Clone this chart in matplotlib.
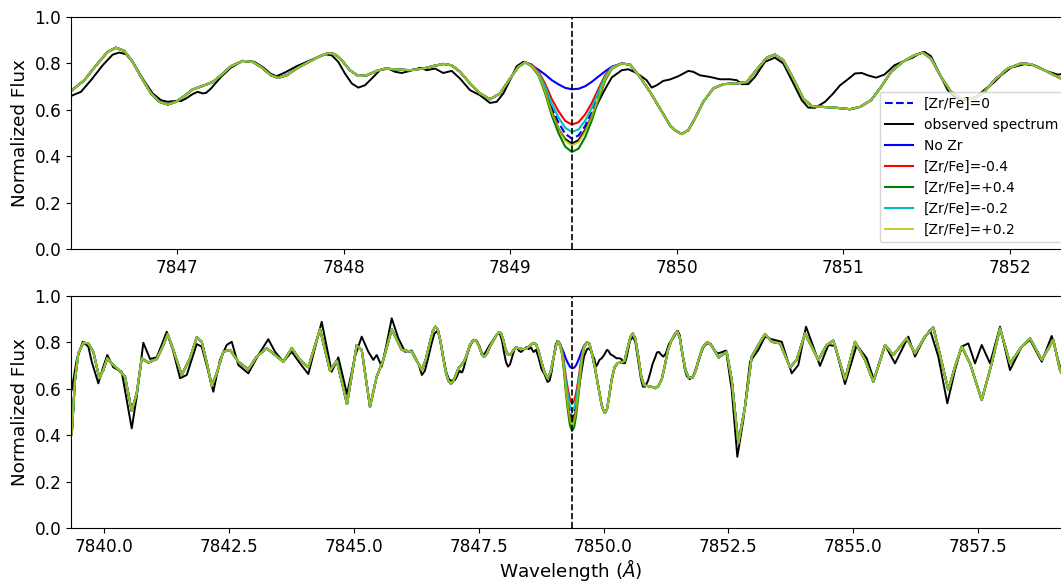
import numpy as np
import matplotlib
matplotlib.use("Agg")
import matplotlib.pyplot as plt

# ---------------------------------------------------------------
# Observed spectrum (wavelength in Angstrom, normalized flux)
# ---------------------------------------------------------------
obs_wave = [
    7839.353, 7839.453, 7839.574, 7839.686, 7839.754, 7839.886, 7839.986, 7840.066,
    7840.186, 7840.354, 7840.454, 7840.555, 7840.655, 7840.787, 7840.921, 7841.055,
    7841.155, 7841.255, 7841.387, 7841.522, 7841.656, 7841.856, 7841.956, 7842.088,
    7842.188, 7842.322, 7842.456, 7842.557, 7842.689, 7842.889, 7843.089, 7843.289,
    7843.423, 7843.590, 7843.758, 7843.924, 7844.090, 7844.358, 7844.558, 7844.691,
    7844.865, 7845.025, 7845.159, 7845.291, 7845.391, 7845.459, 7845.560, 7845.660,
    7845.760, 7845.892, 7846.026, 7846.160, 7846.292,
    7846.364, 7846.424, 7846.484, 7846.554, 7846.614, 7846.654, 7846.694, 7846.734,
    7846.794, 7846.854, 7846.904, 7846.944, 7846.994, 7847.024, 7847.054, 7847.094,
    7847.124, 7847.154, 7847.174, 7847.204, 7847.264, 7847.324, 7847.394, 7847.464,
    7847.514, 7847.564, 7847.598, 7847.648, 7847.718, 7847.779, 7847.839, 7847.888,
    7847.929, 7847.968, 7848.008, 7848.049, 7848.088, 7848.128, 7848.169, 7848.218,
    7848.268, 7848.309, 7848.349, 7848.399, 7848.459, 7848.499, 7848.549, 7848.598,
    7848.649, 7848.699, 7848.759, 7848.819, 7848.879, 7848.919, 7848.959, 7848.999,
    7849.039, 7849.079,
    7849.130, 7849.170, 7849.210, 7849.250, 7849.290, 7849.330, 7849.370, 7849.410,
    7849.450, 7849.490, 7849.530, 7849.570, 7849.610, 7849.670,
    7849.709, 7849.759, 7849.819, 7849.849, 7849.879, 7849.919, 7849.959, 7850.009,
    7850.069, 7850.099, 7850.139, 7850.199, 7850.259, 7850.319, 7850.360, 7850.390,
    7850.429, 7850.469, 7850.529, 7850.589, 7850.639, 7850.690, 7850.750, 7850.789,
    7850.830, 7850.890, 7850.939, 7850.980, 7851.020, 7851.070, 7851.110, 7851.146,
    7851.196, 7851.246, 7851.306, 7851.366, 7851.416, 7851.456, 7851.486, 7851.526,
    7851.576, 7851.626, 7851.666, 7851.726, 7851.796, 7851.856, 7851.906, 7851.946,
    7852.006, 7852.086, 7852.146, 7852.216, 7852.286,
    7852.453, 7852.567, 7852.679, 7852.799, 7852.933, 7853.099, 7853.233, 7853.367,
    7853.568, 7853.768, 7853.900, 7854.054, 7854.200, 7854.334, 7854.501, 7854.635,
    7854.835, 7855.069, 7855.269, 7855.415, 7855.636, 7855.836, 7856.102, 7856.236,
    7856.402, 7856.537, 7856.703, 7856.883, 7857.037, 7857.171, 7857.303, 7857.437,
    7857.572, 7857.738, 7857.938, 7858.138, 7858.372, 7858.539, 7858.773, 7858.973,
    7859.139, 7859.300,
]
obs_flux = [
    0.595, 0.725, 0.803, 0.782, 0.717, 0.624, 0.696, 0.746,
    0.693, 0.674, 0.552, 0.430, 0.567, 0.799, 0.729, 0.736,
    0.790, 0.846, 0.761, 0.646, 0.660, 0.793, 0.782, 0.674,
    0.588, 0.725, 0.789, 0.803, 0.703, 0.667, 0.746, 0.814,
    0.760, 0.717, 0.760, 0.710, 0.664, 0.889, 0.674, 0.736,
    0.578, 0.740, 0.825, 0.760, 0.725, 0.746, 0.696, 0.796,
    0.904, 0.818, 0.760, 0.765, 0.710,
    0.660, 0.678, 0.728, 0.792, 0.838, 0.847, 0.840, 0.807,
    0.735, 0.671, 0.642, 0.635, 0.639, 0.638, 0.649, 0.668,
    0.678, 0.671, 0.673, 0.692, 0.742, 0.782, 0.811, 0.807,
    0.785, 0.755, 0.745, 0.761, 0.788, 0.807, 0.825, 0.840,
    0.835, 0.807, 0.757, 0.714, 0.696, 0.706, 0.735, 0.771,
    0.778, 0.764, 0.759, 0.768, 0.781, 0.771, 0.778, 0.759,
    0.768, 0.735, 0.685, 0.663, 0.630, 0.635, 0.671, 0.728,
    0.788, 0.807,
    0.795, 0.760, 0.690, 0.595, 0.520, 0.475, 0.455, 0.470,
    0.515, 0.575, 0.635, 0.690, 0.740, 0.771,
    0.775, 0.759, 0.728, 0.696, 0.706, 0.725, 0.731, 0.745,
    0.768, 0.764, 0.749, 0.742, 0.732, 0.732, 0.728, 0.711,
    0.711, 0.742, 0.807, 0.825, 0.800, 0.728, 0.642, 0.610,
    0.609, 0.635, 0.671, 0.706, 0.728, 0.757, 0.759, 0.749,
    0.739, 0.752, 0.792, 0.811, 0.825, 0.843, 0.850, 0.831,
    0.757, 0.685, 0.656, 0.642, 0.656, 0.692, 0.720, 0.749,
    0.782, 0.797, 0.792, 0.768, 0.752,
    0.765, 0.595, 0.308, 0.466, 0.717, 0.768, 0.825, 0.814,
    0.803, 0.667, 0.703, 0.868, 0.782, 0.699, 0.789, 0.785,
    0.621, 0.789, 0.732, 0.638, 0.789, 0.710, 0.825, 0.739,
    0.811, 0.854, 0.739, 0.538, 0.681, 0.782, 0.796, 0.710,
    0.789, 0.710, 0.868, 0.681, 0.782, 0.811, 0.717, 0.828,
    0.696, 0.640,
]

# ---------------------------------------------------------------
# Synthetic spectrum, common to every model away from the Zr line
# ---------------------------------------------------------------
syn_wave = [
    7839.353, 7839.419, 7839.485, 7839.586, 7839.686, 7839.786, 7839.906, 7839.986,
    7840.066, 7840.154, 7840.286, 7840.420, 7840.555, 7840.655, 7840.755, 7840.887,
    7841.055, 7841.175, 7841.275, 7841.387, 7841.556, 7841.722, 7841.856, 7841.956,
    7842.068, 7842.156, 7842.256, 7842.388, 7842.523, 7842.689, 7842.889, 7843.057,
    7843.257, 7843.423, 7843.590, 7843.758, 7843.924, 7844.090, 7844.324, 7844.525,
    7844.659, 7844.865, 7845.059, 7845.159, 7845.325, 7845.459, 7845.592, 7845.760,
    7845.960, 7846.160,
    7846.364, 7846.444, 7846.524, 7846.584, 7846.634, 7846.684, 7846.734, 7846.784,
    7846.844, 7846.894, 7846.944, 7846.994, 7847.044, 7847.094, 7847.164, 7847.214,
    7847.264, 7847.324, 7847.394, 7847.454, 7847.504, 7847.564, 7847.608, 7847.658,
    7847.718, 7847.779, 7847.848, 7847.908, 7847.948, 7847.989, 7848.038, 7848.088,
    7848.139, 7848.199, 7848.249, 7848.319, 7848.399, 7848.478, 7848.538, 7848.598,
    7848.649, 7848.699, 7848.759, 7848.819, 7848.879, 7848.939, 7848.999, 7849.049,
]
syn_flux = [
    0.402, 0.638, 0.753, 0.799, 0.796, 0.760, 0.646, 0.681,
    0.732, 0.710, 0.684, 0.653, 0.505, 0.581, 0.732, 0.713,
    0.729, 0.782, 0.836, 0.768, 0.660, 0.732, 0.822, 0.803,
    0.703, 0.613, 0.667, 0.760, 0.768, 0.717, 0.684, 0.739,
    0.775, 0.746, 0.717, 0.775, 0.725, 0.693, 0.857, 0.678,
    0.722, 0.535, 0.789, 0.768, 0.523, 0.653, 0.725, 0.857,
    0.768, 0.760,
    0.681, 0.728, 0.800, 0.850, 0.868, 0.854, 0.807, 0.742,
    0.671, 0.635, 0.623, 0.635, 0.660, 0.688, 0.706, 0.720,
    0.749, 0.788, 0.811, 0.807, 0.785, 0.749, 0.738, 0.749,
    0.778, 0.802, 0.828, 0.845, 0.840, 0.814, 0.771, 0.746,
    0.749, 0.768, 0.778, 0.774, 0.771, 0.778, 0.789, 0.798,
    0.792, 0.764, 0.714, 0.671, 0.646, 0.671, 0.735, 0.785,
]
syn_wave_red = [
    7849.719, 7849.779, 7849.839, 7849.899, 7849.959, 7849.989, 7850.029, 7850.069,
    7850.109, 7850.159, 7850.219, 7850.279, 7850.360, 7850.420, 7850.469, 7850.540,
    7850.589, 7850.639, 7850.699, 7850.759, 7850.810, 7850.879, 7850.960, 7851.040,
    7851.100, 7851.166, 7851.226, 7851.286, 7851.356, 7851.426, 7851.476, 7851.526,
    7851.586, 7851.646, 7851.706, 7851.786, 7851.846, 7851.906, 7851.986, 7852.066,
    7852.126, 7852.206, 7852.306,
    7852.466, 7852.567, 7852.699, 7852.833, 7852.967, 7853.099, 7853.233, 7853.367,
    7853.534, 7853.734, 7853.868, 7854.034, 7854.300, 7854.468, 7854.601, 7854.835,
    7855.035, 7855.235, 7855.401, 7855.636, 7855.802, 7856.070, 7856.236, 7856.436,
    7856.603, 7856.737, 7856.903, 7857.037, 7857.171, 7857.337, 7857.572, 7857.772,
    7857.938, 7858.138, 7858.372, 7858.539, 7858.773, 7859.005, 7859.139, 7859.300,
]
syn_flux_red = [
    0.795, 0.742, 0.678, 0.606, 0.534, 0.513, 0.496, 0.513,
    0.563, 0.635, 0.692, 0.711, 0.714, 0.720, 0.764, 0.825,
    0.838, 0.814, 0.735, 0.649, 0.616, 0.613, 0.609, 0.603,
    0.613, 0.642, 0.699, 0.764, 0.807, 0.835, 0.847, 0.821,
    0.742, 0.678, 0.649, 0.649, 0.678, 0.728, 0.778, 0.800,
    0.797, 0.771, 0.735,
    0.760, 0.638, 0.366, 0.523, 0.739, 0.789, 0.836, 0.803,
    0.796, 0.693, 0.725, 0.839, 0.725, 0.789, 0.808, 0.641,
    0.803, 0.725, 0.631, 0.789, 0.746, 0.818, 0.753, 0.825,
    0.865, 0.746, 0.595, 0.696, 0.782, 0.710, 0.552, 0.710,
    0.861, 0.710, 0.782, 0.818, 0.725, 0.811, 0.681, 0.620,
]

# ---------------------------------------------------------------
# Zr I line core for each abundance
# ---------------------------------------------------------------
line_wave = [7849.09, 7849.13, 7849.17, 7849.21, 7849.25, 7849.29, 7849.33, 7849.37,
             7849.41, 7849.45, 7849.49, 7849.53, 7849.57, 7849.61, 7849.67]
flux_no_zr = [0.805, 0.791, 0.773, 0.752, 0.728, 0.710, 0.695, 0.689,
              0.691, 0.702, 0.721, 0.744, 0.766, 0.786, 0.800]
flux_m04 = [0.805, 0.792, 0.765, 0.712, 0.646, 0.594, 0.553, 0.537,
            0.547, 0.581, 0.630, 0.691, 0.750, 0.784, 0.800]
flux_m02 = [0.805, 0.790, 0.760, 0.700, 0.625, 0.568, 0.523, 0.505,
            0.516, 0.554, 0.610, 0.678, 0.744, 0.782, 0.800]
flux_00 = [0.805, 0.789, 0.756, 0.690, 0.608, 0.546, 0.497, 0.477,
           0.490, 0.531, 0.592, 0.667, 0.738, 0.781, 0.800]
flux_p02 = [0.805, 0.787, 0.752, 0.678, 0.589, 0.522, 0.468, 0.447,
            0.461, 0.507, 0.573, 0.654, 0.733, 0.779, 0.800]
flux_p04 = [0.805, 0.786, 0.748, 0.671, 0.575, 0.500, 0.442, 0.419,
            0.433, 0.483, 0.555, 0.643, 0.727, 0.777, 0.800]

zr_line = 7849.37


def model(core):
    w = np.concatenate([syn_wave, line_wave, syn_wave_red])
    f = np.concatenate([syn_flux, core, syn_flux_red])
    return w, f


series = [
    (flux_00, dict(color="b", ls="--", label="[Zr/Fe]=0")),
    (None, dict(color="k", label="observed spectrum")),
    (flux_no_zr, dict(color="b", label="No Zr")),
    (flux_m04, dict(color="r", label="[Zr/Fe]=-0.4")),
    (flux_p04, dict(color="g", label="[Zr/Fe]=+0.4")),
    (flux_m02, dict(color="c", label="[Zr/Fe]=-0.2")),
    (flux_p02, dict(color="y", alpha=0.8, label="[Zr/Fe]=+0.2")),
]

W, H = 1061, 583
fig = plt.figure(figsize=(W / 100, H / 100), dpi=100)
left, right = 71 / W, 1071 / W
ax_top = fig.add_axes([left, 1 - 249.3 / H, right - left, 232.3 / H])
ax_bot = fig.add_axes([left, 1 - 528.3 / H, right - left, 232.3 / H])

for ax in (ax_top, ax_bot):
    for core, style in series:
        if core is None:
            ax.plot(obs_wave, obs_flux, lw=1.4, **style)
        else:
            w, f = model(core)
            ax.plot(w, f, lw=1.5, **style)
    ax.axvline(zr_line, color="k", ls="--", lw=1.2)
    ax.set_ylim(0, 1.0)
    ax.set_ylabel("Normalized Flux", fontsize=13.2)
    ax.tick_params(labelsize=12.2)

ax_top.set_xlim(7846.364, 7852.366)
ax_bot.set_xlim(7839.339, 7859.359)
ax_bot.set_xlabel(r"Wavelength ($\AA$)", fontsize=13.2, labelpad=1)
ax_top.legend(loc="lower right", fontsize=10)

fig.savefig("out.png", dpi=100)
